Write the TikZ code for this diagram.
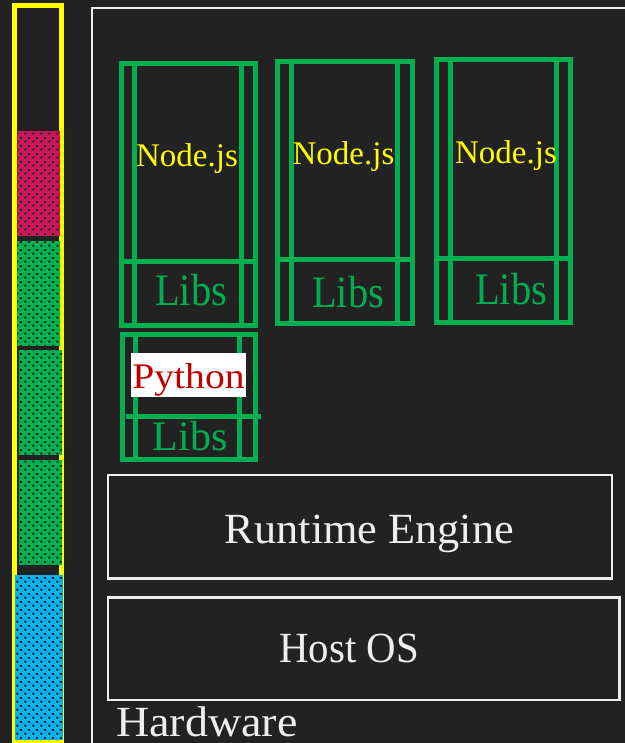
\documentclass[tikz,border=0pt]{standalone}
\usepackage{fontspec}
\setmainfont{Liberation Serif}
\usetikzlibrary{patterns.meta}
\definecolor{bgc}{HTML}{222222}
\definecolor{ygreen}{HTML}{00B050}
\definecolor{yyel}{HTML}{FFFF00}
\definecolor{ymag}{HTML}{C8185A}
\definecolor{yblue}{HTML}{00B0F0}
\definecolor{yred}{HTML}{C00000}
\definecolor{ywhite}{HTML}{EEEEEE}
\newcommand\fsz[1]{\fontsize{#1}{#1}\selectfont}
\tikzdeclarepattern{
  name=pxdots, type=uncolored,
  bottom left={(0pt,0pt)}, top right={(6pt,6pt)}, tile size={(6pt,6pt)},
  code={\fill (0.4pt,0.4pt) rectangle (1.9pt,1.9pt); \fill (3.4pt,3.4pt) rectangle (4.9pt,4.9pt);}
}
\tikzset{
  gline/.style={draw=ygreen, line width=3.75pt},
  wline/.style={draw=ywhite, line width=1.7pt},
  dotblock/.style={fill=#1, postaction={pattern=pxdots, pattern color=bgc}},
  lab/.style={inner sep=0pt, anchor=base},
  nodelab/.style={lab, text=yyel, font=\fsz{24.75}},
  libslab/.style={lab, text=ygreen, font=\fsz{33.75}},
  sys/.style={lab, text=ywhite, font=\fsz{32.25}},
}
\begin{document}
\begin{tikzpicture}[x=0.75pt,y=-0.75pt]
\fill[bgc] (0,0) rectangle (625,743);
\useasboundingbox (0,0) rectangle (625,743);
\clip (0,0) rectangle (625,743);

% left stack bar
\draw[yyel, line width=3.75pt] (14.5,5.5) rectangle (61.5,740.5);
\path[dotblock=ymag] (17,131) rectangle (60,236);
\path[dotblock=ygreen] (17,241) rectangle (60,346);
\path[dotblock=ygreen] (19,350) rectangle (62,455);
\path[dotblock=ygreen] (19,460) rectangle (62,565);
\path[dotblock=yblue] (15,575) rectangle (63,740);

% main frame
\draw[draw=ywhite, line width=1.5pt] (91.5,8) rectangle (640,760);

% container 1
\draw[gline] (121.5,63.5) rectangle (255.5,325.5);
\draw[gline] (134.5,63.5) -- (134.5,325.5);
\draw[gline] (241.5,63.5) -- (241.5,325.5);
\draw[gline] (121.5,261.5) -- (255.5,261.5);
\node[nodelab] (n1) at (187,166) {Node.js};
\node[libslab] (l1) at (191,305) {\scalebox{0.9}[1]{Libs}};

% container 2
\draw[gline] (277.5,61.5) rectangle (412.5,323.5);
\draw[gline] (291,61.5) -- (291,323.5);
\draw[gline] (397.5,61.5) -- (397.5,323.5);
\draw[gline] (277.5,259.5) -- (412.5,259.5);
\node[nodelab] (n2) at (343.5,164) {Node.js};
\node[libslab] (l2) at (348,307) {\scalebox{0.9}[1]{Libs}};

% container 3
\draw[gline] (436.5,59.5) rectangle (570.5,322);
\draw[gline] (450,59.5) -- (450,322);
\draw[gline] (556.5,59.5) -- (556.5,322);
\draw[gline] (436.5,258.5) -- (570.5,258.5);
\node[nodelab] (n3) at (506,163) {Node.js};
\node[libslab] (l3) at (511,304) {\scalebox{0.9}[1]{Libs}};

% python container
\draw[gline] (122.5,334.5) rectangle (255.5,459.5);
\draw[gline] (135.5,334.5) -- (135.5,459.5);
\draw[gline] (239.5,334.5) -- (239.5,459.5);
\draw[gline] (126,416.5) -- (261,416.5);
\fill[white] (131,353) rectangle (246,397);
\node[lab, text=yred, font=\fsz{27}] (py) at (188.5,388) {\scalebox{1.1}[1]{Python}};
\node[libslab, font=\fsz{31.5}] (l4) at (190,450) {Libs};

% runtime engine
\draw[wline] (108,475) rectangle (612,578.5);
\node[sys] (re) at (369.5,543) {\scalebox{1.03}[1]{Runtime Engine}};

% host OS
\draw[wline] (108,597.5) rectangle (619.5,700);
\node[sys] (os) at (349,662) {\scalebox{0.95}[1]{Host OS}};

% hardware
\node[sys, anchor=base west, text depth=0pt] (hw) at (116,736) {\scalebox{1.07}[1]{Hardware}};
\end{tikzpicture}
\end{document}
